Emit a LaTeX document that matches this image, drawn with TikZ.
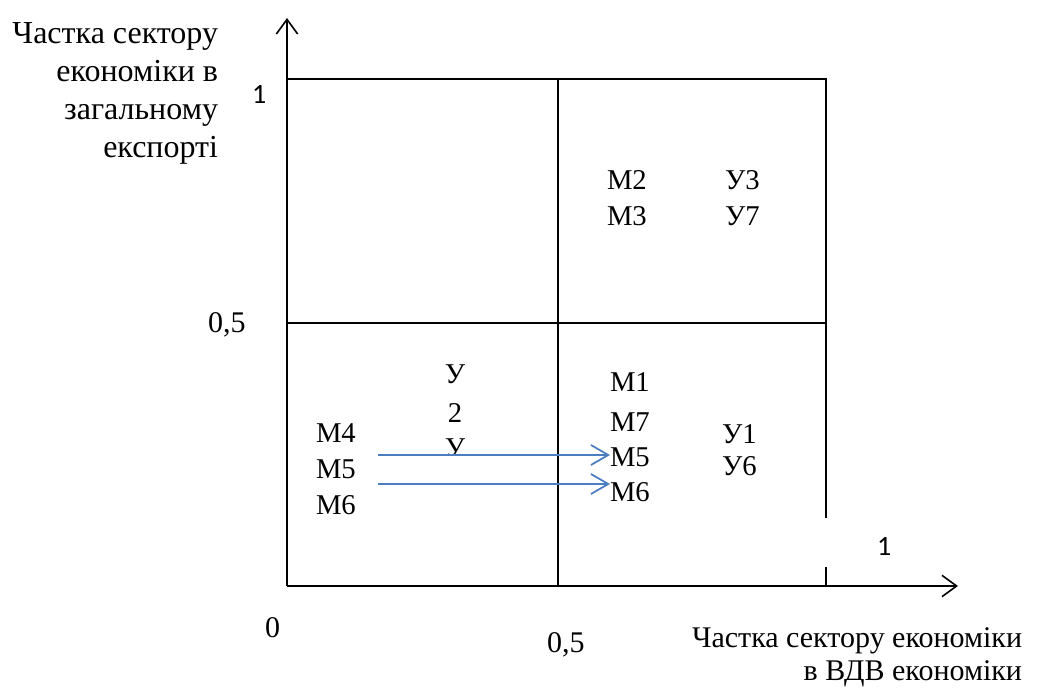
\documentclass[tikz,border=0pt]{standalone}
\usepackage{fontspec}
\setmainfont{Liberation Serif}
\newfontfamily\sansone{Carlito}
\usetikzlibrary{arrows.meta}
\definecolor{arrowblue}{RGB}{74,126,193}
\begin{document}
\begin{tikzpicture}[x=0.75pt,y=-0.75pt,
  axisline/.style={line width=1.4pt,-{Straight Barb[length=11pt,width=16pt,line width=1.2pt]}},
  gridline/.style={line width=1.4pt},
  moveline/.style={draw=arrowblue,line width=1.5pt,-{Straight Barb[length=13pt,width=15pt,line width=1.3pt]}},
  txt/.style={font=\fontsize{21.5}{25}\selectfont,inner sep=0pt,outer sep=0pt},
  bigtxt/.style={font=\fontsize{22.5}{29}\selectfont,inner sep=0pt,outer sep=0pt},
  sanstxt/.style={font=\sansone\fontsize{21}{25}\selectfont,inner sep=0pt,outer sep=0pt},
]
\useasboundingbox (0,0) rectangle (1050,687);
% axes
\coordinate (o) at (287,586);
\coordinate (ytip) at (287,18);
\coordinate (xtip) at (958,586);
\draw[axisline] (o) -- (ytip);
\draw[axisline] (o) -- (xtip);
% grid
\coordinate (tl) at (287,79);
\coordinate (tm) at (558,79);
\coordinate (tr) at (826,79);
\coordinate (ml) at (287,323);
\coordinate (mr) at (826,323);
\coordinate (bm) at (558,586);
\coordinate (rgap1) at (826,518);
\coordinate (rgap2) at (826,567);
\coordinate (rb) at (826,586);
\draw[gridline] (tl) -- (tr) -- (rgap1);
\draw[gridline] (rgap2) -- (rb);
\draw[gridline] (tm) -- (bm);
\draw[gridline] (ml) -- (mr);
% axis labels
\node[bigtxt,anchor=base east,align=right,font=\fontsize{24}{28.5}\selectfont] (ylab) at (218,157)
  {Частка сектору\\економіки в\\загальному\\експорті};
\node[bigtxt,anchor=base east,align=right,font=\fontsize{22.5}{24.75}\selectfont] (xlab) at (1022,680)
  {Частка сектору економіки\\в ВДВ економіки};
\node[sanstxt,anchor=base west] (yone) at (252,103) {1};
\node[sanstxt,anchor=base west] (xone) at (877,555) {1};
\node[bigtxt,anchor=base west] (yhalf) at (208,332) {0,5};
\node[bigtxt,anchor=base west] (zero) at (265,637) {0};
\node[bigtxt,anchor=base west] (xhalf) at (547,652) {0,5};
% top right quadrant
\node[txt,anchor=base west] (m2) at (607,189) {М2};
\node[txt,anchor=base west] (m3) at (607,225) {М3};
\node[txt,anchor=base west] (u3) at (725,189) {У3};
\node[txt,anchor=base west] (u7) at (725,225) {У7};
% bottom right quadrant
\node[txt,anchor=base west] (m1) at (610,391) {М1};
\node[txt,anchor=base west] (m7) at (610,431) {М7};
\node[txt,anchor=base west] (m5r) at (610,466) {М5};
\node[txt,anchor=base west] (m6r) at (610,501) {М6};
\node[txt,anchor=base west] (u1) at (722,443) {У1};
\node[txt,anchor=base west] (u6) at (722,475) {У6};
% bottom left quadrant
\node[txt,anchor=base west] (m4) at (316,442) {М4};
\node[txt,anchor=base west] (m5l) at (316,478) {М5};
\node[txt,anchor=base west] (m6l) at (316,514) {М6};
\node[txt,anchor=base] (ua) at (455,383) {У};
\node[txt,anchor=base] (two) at (455,422) {2};
\begin{scope}
  \clip (420,420) rectangle (490,455);
  \node[txt,anchor=base] (ub) at (455,457) {У};
\end{scope}
% movement arrows
\coordinate (a1s) at (378,455);
\coordinate (a2s) at (378,484);
\draw[moveline] (a1s) -- (a1s -| m5r.west);
\draw[moveline] (a2s) -- (a2s -| m6r.west);
\end{tikzpicture}
\end{document}
